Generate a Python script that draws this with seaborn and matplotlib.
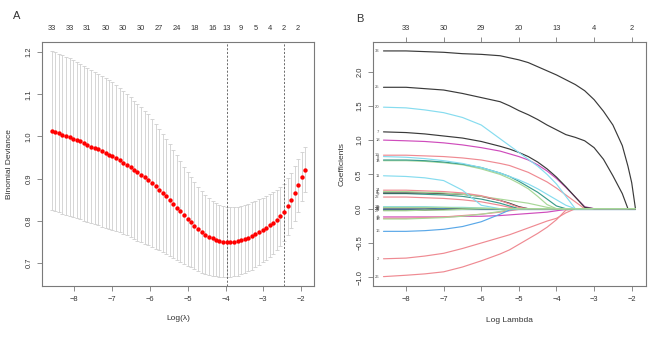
import numpy as np
import pandas as pd
import seaborn as sns
import matplotlib.pyplot as plt

sns.set_style("white")
plt.rcParams['font.family'] = ['Liberation Sans', 'DejaVu Sans']

# ---- panel A: cv curve (log lambda, mean deviance, standard error)
log_lambda = [-8.59, -8.50, -8.40, -8.31, -8.21, -8.12, -8.02, -7.93, -7.84, -7.74,
              -7.65, -7.55, -7.46, -7.36, -7.27, -7.17, -7.08, -6.99, -6.89, -6.80,
              -6.70, -6.61, -6.51, -6.42, -6.33, -6.23, -6.14, -6.04, -5.95, -5.85,
              -5.76, -5.66, -5.57, -5.48, -5.38, -5.29, -5.19, -5.10, -5.00, -4.91,
              -4.82, -4.72, -4.63, -4.53, -4.44, -4.34, -4.25, -4.16, -4.06, -3.97,
              -3.87, -3.78, -3.68, -3.59, -3.49, -3.40, -3.31, -3.21, -3.12, -3.02,
              -2.93, -2.83, -2.74, -2.64, -2.55, -2.46, -2.36, -2.27, -2.17, -2.08,
              -1.98, -1.89]
cv_mean = [1.014, 1.011, 1.008, 1.004, 1.001, 0.998, 0.995, 0.991, 0.988, 0.984,
           0.980, 0.976, 0.973, 0.969, 0.965, 0.961, 0.957, 0.954, 0.949, 0.944,
           0.938, 0.933, 0.927, 0.921, 0.915, 0.909, 0.903, 0.897, 0.890, 0.882,
           0.874, 0.866, 0.858, 0.849, 0.840, 0.831, 0.822, 0.813, 0.804, 0.796,
           0.788, 0.780, 0.773, 0.767, 0.762, 0.758, 0.755, 0.752, 0.750, 0.749,
           0.749, 0.750, 0.751, 0.754, 0.757, 0.760, 0.764, 0.768, 0.773, 0.778,
           0.783, 0.789, 0.795, 0.802, 0.810, 0.820, 0.834, 0.848, 0.865, 0.884,
           0.904, 0.921]
cv_se = [0.189, 0.189, 0.188, 0.188, 0.187, 0.187, 0.186, 0.185, 0.185, 0.184,
         0.183, 0.182, 0.181, 0.180, 0.179, 0.178, 0.176, 0.175, 0.173, 0.172,
         0.170, 0.168, 0.166, 0.164, 0.162, 0.160, 0.158, 0.155, 0.152, 0.148,
         0.144, 0.140, 0.136, 0.132, 0.128, 0.124, 0.120, 0.115, 0.111, 0.107,
         0.103, 0.100, 0.097, 0.094, 0.091, 0.089, 0.087, 0.085, 0.084, 0.083,
         0.083, 0.082, 0.082, 0.081, 0.081, 0.080, 0.080, 0.079, 0.078, 0.077,
         0.076, 0.075, 0.074, 0.072, 0.070, 0.068, 0.067, 0.066, 0.065, 0.063,
         0.058, 0.053]
nz_idx = [0, 5, 10, 15, 20, 25, 30, 35, 40, 45, 49, 53, 57, 61, 65, 69]
nz_labels = ['33', '33', '31', '30', '30', '30', '27', '24', '18', '16', '13', '9', '5', '4', '2', '2']
idx_min = 49
idx_1se = 65

# ---- panel B: coefficient paths
path_grid = [-8.6, -8.0, -7.5, -7.0, -6.5, -6.0, -5.5, -5.25, -5.0, -4.75, -4.5, -4.25,
             -4.0, -3.75, -3.5, -3.25, -3.0, -2.75, -2.5, -2.25, -2.1, -2.0, -1.9]
coef_labels = ['24', '12', '17', '28', '1', '21', '6', '10', '13', '16', '2', '26',
               '22', '9', '4', '5', '14', '11', '15', '8', '8', '19', '18', '7', '20',
               '25', '33', '3', '27']
coef_colors = ['gray', 'blue', 'black', 'blue', 'black', 'cyan', 'magenta', 'red', 'green', 'blue', 'red', 'red',
               'red', 'teal', 'black', 'green', 'red', 'cyan', 'green', 'teal', 'cyan', 'red', 'magenta', 'black', 'cyan',
               'black', 'black', 'green', 'green']
coef_paths = [
    [0.0],
    [0.0],
    [0.01, 0.01, 0.01, 0.0],
    [-0.01, -0.01, -0.01, 0.0],
    [-0.02, -0.02, -0.02, -0.01, 0.0],
    [0.03, 0.03, 0.03, 0.02, 0.02, 0.01, 0.0],
    [-0.12, -0.12, -0.12, -0.12, -0.11, -0.11, -0.10, -0.09, -0.08, -0.07, -0.06, -0.05, -0.03, -0.01, 0.0],
    [-0.14, -0.14, -0.13, -0.12, -0.10, -0.08, -0.05, -0.03, -0.01, 0.0],
    [-0.15, -0.15, -0.14, -0.13, -0.11, -0.08, -0.04, -0.01, 0.0],
    [-0.33, -0.33, -0.32, -0.30, -0.26, -0.19, -0.08, -0.02, 0.0],
    [-0.73, -0.72, -0.69, -0.65, -0.58, -0.50, -0.42, -0.38, -0.33, -0.28, -0.23, -0.18, -0.14, -0.06, 0.0],
    [-0.99, -0.97, -0.95, -0.92, -0.85, -0.76, -0.66, -0.60, -0.52, -0.44, -0.36, -0.27, -0.16, -0.02, 0.0],
    [0.17, 0.17, 0.16, 0.15, 0.13, 0.10, 0.05, 0.02, 0.0],
    [0.22, 0.22, 0.21, 0.20, 0.18, 0.14, 0.08, 0.04, 0.0],
    [0.23, 0.23, 0.23, 0.22, 0.21, 0.18, 0.12, 0.08, 0.03, 0.0],
    [0.25, 0.25, 0.24, 0.23, 0.21, 0.18, 0.14, 0.12, 0.10, 0.08, 0.05, 0.02, 0.0],
    [0.27, 0.27, 0.26, 0.25, 0.23, 0.19, 0.12, 0.07, 0.02, 0.0],
    [0.48, 0.47, 0.45, 0.41, 0.27, 0.05, 0.0],
    [0.70, 0.70, 0.69, 0.67, 0.64, 0.58, 0.50, 0.44, 0.37, 0.29, 0.18, 0.06, 0.0],
    [0.71, 0.71, 0.70, 0.68, 0.65, 0.60, 0.52, 0.47, 0.40, 0.32, 0.24, 0.14, 0.04, 0.0],
    [0.76, 0.75, 0.73, 0.70, 0.66, 0.60, 0.52, 0.47, 0.42, 0.36, 0.29, 0.21, 0.13, 0.05, 0.0],
    [0.78, 0.78, 0.77, 0.76, 0.74, 0.71, 0.66, 0.63, 0.58, 0.53, 0.46, 0.39, 0.30, 0.20, 0.10, 0.0],
    [1.00, 0.99, 0.98, 0.96, 0.93, 0.89, 0.84, 0.80, 0.76, 0.71, 0.64, 0.55, 0.44, 0.31, 0.17, 0.03, 0.0],
    [1.12, 1.11, 1.09, 1.06, 1.03, 0.98, 0.91, 0.87, 0.82, 0.76, 0.68, 0.58, 0.46, 0.32, 0.17, 0.02, 0.0],
    [1.48, 1.47, 1.44, 1.40, 1.33, 1.22, 1.02, 0.92, 0.82, 0.72, 0.62, 0.50, 0.36, 0.18, 0.0],
    [1.77, 1.77, 1.75, 1.73, 1.68, 1.62, 1.56, 1.50, 1.43, 1.37, 1.30, 1.22, 1.15, 1.08, 1.04, 0.99,
     0.89, 0.72, 0.48, 0.22, 0.0],
    [2.30, 2.30, 2.29, 2.28, 2.26, 2.25, 2.23, 2.20, 2.17, 2.13, 2.07, 2.01, 1.95, 1.88, 1.81, 1.72,
     1.59, 1.42, 1.22, 0.92, 0.62, 0.38, 0.0],
    [0.02, 0.02, 0.02, 0.02, 0.01, 0.01, 0.0],
    [-0.03, -0.03, -0.02, -0.02, -0.01, 0.0],
]
df_ticks = [-8, -7, -6, -5, -4, -3, -2]
df_labels = ['33', '30', '29', '20', '13', '4', '2']

col_map = {'black': '#3a3a3a', 'red': '#ef8a92', 'green': '#a8d898', 'blue': '#5aa8e8',
           'cyan': '#86dcef', 'magenta': '#cf4cbc', 'teal': '#3a9c8c', 'gray': '#a0a0a0'}

fig = plt.figure(figsize=(6.69, 3.38), dpi=100)
axA = fig.add_axes([0.0628, 0.1538, 0.4066, 0.7219])
axB = fig.add_axes([0.5575, 0.1538, 0.4081, 0.7219])

frame_col = '#7a7a7a'
tick_fs = 5.4


def style_axis(ax):
    for s in ax.spines.values():
        s.set_color(frame_col)
        s.set_linewidth(0.8)
    ax.tick_params(axis='both', direction='out', length=3.5, width=0.6, color=frame_col,
                   labelsize=tick_fs, labelcolor='#333333', pad=3.5, bottom=True, left=True)
    for lab in ax.get_yticklabels():
        lab.set_rotation(90)
        lab.set_va('center')


# panel A
mean = np.array(cv_mean)
se = np.array(cv_se)
axA.errorbar(log_lambda, mean, yerr=se, fmt='none', ecolor='#cfcfcf', elinewidth=0.6,
             capsize=1.7, capthick=0.6, zorder=1)
sns.scatterplot(x=log_lambda, y=cv_mean, color='#ff0000', s=10, linewidth=0, ax=axA, zorder=3)
axA.axvline(log_lambda[idx_min], color='#555555', ls=(0, (2.5, 2)), lw=0.6)
axA.axvline(log_lambda[idx_1se], color='#555555', ls=(0, (2.5, 2)), lw=0.6)
axA.set_xlim(-8.85, -1.66)
axA.set_ylim(0.645, 1.224)
axA.set_xticks([-8, -7, -6, -5, -4, -3, -2])
axA.set_yticks([0.7, 0.8, 0.9, 1.0, 1.1, 1.2])
axA.set_xlabel('Log(\u03bb)', fontsize=6, color='#333333', labelpad=9)
axA.set_ylabel('Binomial Deviance', fontsize=6, color='#333333', labelpad=9)
style_axis(axA)
topA = axA.twiny()
topA.set_xlim(axA.get_xlim())
topA.set_xticks([log_lambda[i] for i in nz_idx])
topA.set_xticklabels(nz_labels)
topA.tick_params(axis='x', length=0, labelsize=tick_fs, labelcolor='#333333', pad=7)
for s in topA.spines.values():
    s.set_visible(False)
fig.text(0.019, 0.952, 'A', fontsize=8, color='#333333', va='center')

# panel B
rows = []
for k, path in enumerate(coef_paths):
    vals = list(path) + [0.0] * (len(path_grid) - len(path))
    for x, y in zip(path_grid, vals):
        rows.append({'log_lambda': x, 'coef': y, 'var': k})
paths_df = pd.DataFrame(rows)
palette = {k: col_map[c] for k, c in enumerate(coef_colors)}
sns.lineplot(data=paths_df, x='log_lambda', y='coef', hue='var', palette=palette,
             estimator=None, sort=False, legend=False, linewidth=0.85, ax=axB)
for k, path in enumerate(coef_paths):
    axB.text(-8.76, path[0], coef_labels[k], fontsize=3.0, color='#555555',
             ha='center', va='center')
axB.set_xlim(-8.88, -1.62)
axB.set_ylim(-1.127, 2.43)
axB.set_xticks([-8, -7, -6, -5, -4, -3, -2])
axB.set_yticks([-1.0, -0.5, 0.0, 0.5, 1.0, 1.5, 2.0])
axB.set_xlabel('Log Lambda', fontsize=6, color='#333333', labelpad=10)
axB.set_ylabel('Coefficients', fontsize=6, color='#333333', labelpad=8)
style_axis(axB)
topB = axB.twiny()
topB.set_xlim(axB.get_xlim())
topB.set_xticks(df_ticks)
topB.set_xticklabels(df_labels)
topB.tick_params(axis='x', direction='out', length=3.5, width=0.6, color=frame_col,
                 labelsize=tick_fs, labelcolor='#333333', pad=3.5, top=True)
for s in topB.spines.values():
    s.set_visible(False)
fig.text(0.533, 0.944, 'B', fontsize=8, color='#333333', va='center')

fig.savefig('out.png', dpi=100, facecolor='white')
